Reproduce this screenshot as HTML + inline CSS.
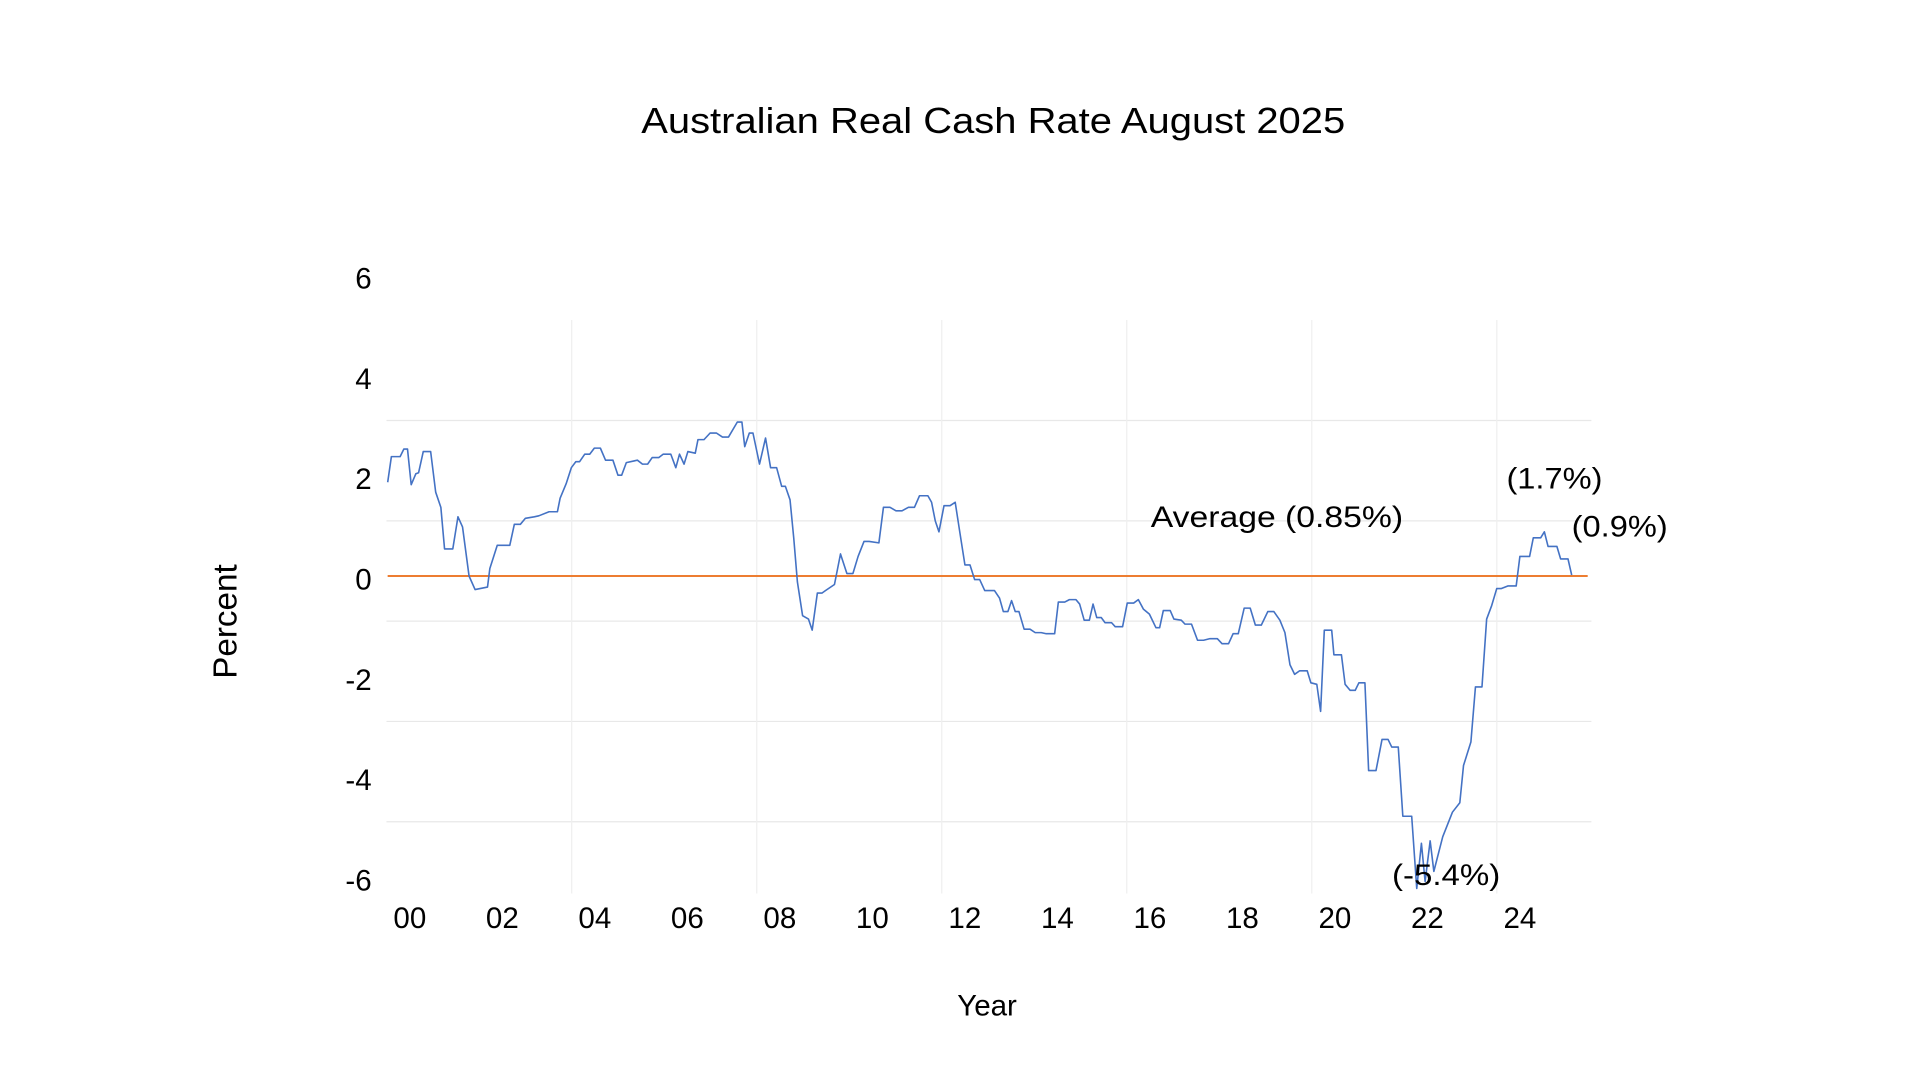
<!DOCTYPE html>
<html><head><meta charset="utf-8"><style>
html,body{margin:0;padding:0;background:#fff;}
svg{display:block;}
text{font-family:"Liberation Sans",sans-serif;fill:#000;}
</style></head><body>
<svg id="chart" width="1920" height="1080" viewBox="0 0 1560 877.5" preserveAspectRatio="none" xmlns="http://www.w3.org/2000/svg">
<text x="807" y="108" text-anchor="middle" font-size="29" textLength="572" lengthAdjust="spacingAndGlyphs">Australian Real Cash Rate August 2025</text>
<g id="grid"></g>
<g id="yticks"></g>
<g id="xticks"></g>
<line id="avgline" stroke="#ED7D31" stroke-width="1.6"></line>
<polyline id="series" fill="none" stroke="#4472C4" stroke-width="1.3" stroke-linejoin="round"></polyline>
<text x="0" y="0" font-size="27" text-anchor="middle" transform="translate(192,505) rotate(-90)">Percent</text>
<text x="802" y="825" font-size="24" text-anchor="middle">Year</text>
<text x="935" y="428" font-size="24" textLength="205" lengthAdjust="spacingAndGlyphs">Average (0.85%)</text>
<text x="1224" y="397" font-size="24" textLength="78" lengthAdjust="spacingAndGlyphs">(1.7%)</text>
<text x="1277" y="436" font-size="24" textLength="78" lengthAdjust="spacingAndGlyphs">(0.9%)</text>
<text x="1131" y="719" font-size="24" textLength="88" lengthAdjust="spacingAndGlyphs">(-5.4%)</text>
</svg>
<script>
const years = [-0.48,-0.40,-0.21,-0.13,-0.05,0.03,0.13,0.19,0.29,0.45,0.56,0.67,0.75,0.93,1.04,1.14,1.28,1.41,1.68,1.73,1.89,2.16,2.26,2.39,2.50,2.69,2.79,3.01,3.19,3.25,3.38,3.49,3.59,3.67,3.78,3.89,3.99,4.12,4.23,4.39,4.50,4.58,4.68,4.92,5.03,5.14,5.24,5.38,5.48,5.64,5.75,5.83,5.93,6.01,6.17,6.23,6.36,6.49,6.63,6.76,6.89,7.08,7.18,7.24,7.34,7.42,7.56,7.69,7.80,7.93,8.04,8.12,8.22,8.30,8.38,8.49,8.62,8.70,8.81,8.91,8.99,9.18,9.31,9.45,9.58,9.69,9.82,9.93,10.14,10.24,10.38,10.51,10.64,10.78,10.91,11.02,11.20,11.28,11.36,11.44,11.55,11.68,11.79,11.89,12.00,12.11,12.21,12.32,12.43,12.64,12.75,12.83,12.93,13.01,13.09,13.17,13.28,13.41,13.52,13.65,13.76,13.94,14.02,14.16,14.26,14.40,14.48,14.58,14.69,14.77,14.85,14.95,15.03,15.17,15.25,15.41,15.51,15.65,15.75,15.86,15.99,16.13,16.21,16.29,16.44,16.52,16.68,16.76,16.90,17.03,17.16,17.30,17.46,17.56,17.70,17.80,17.91,18.04,18.17,18.28,18.41,18.55,18.68,18.81,18.92,19.03,19.13,19.24,19.40,19.48,19.61,19.69,19.77,19.93,19.98,20.14,20.22,20.33,20.44,20.52,20.65,20.73,20.89,21.02,21.15,21.23,21.37,21.47,21.66,21.77,21.87,21.95,22.06,22.14,22.33,22.54,22.70,22.78,22.94,23.04,23.18,23.28,23.39,23.50,23.60,23.74,23.92,24.00,24.21,24.29,24.45,24.53,24.61,24.80,24.88,25.04,25.12];
const rates = [1.87,2.38,2.38,2.53,2.53,1.82,2.04,2.06,2.48,2.48,1.67,1.37,0.54,0.54,1.18,0.98,0,-0.27,-0.22,0.15,0.61,0.61,1.03,1.03,1.15,1.18,1.20,1.28,1.28,1.55,1.84,2.16,2.28,2.28,2.43,2.43,2.55,2.55,2.31,2.31,2.01,2.01,2.26,2.31,2.23,2.23,2.36,2.36,2.43,2.43,2.16,2.43,2.23,2.48,2.45,2.72,2.72,2.85,2.85,2.77,2.77,3.07,3.07,2.58,2.85,2.85,2.23,2.75,2.16,2.16,1.79,1.79,1.52,0.76,-0.12,-0.79,-0.86,-1.08,-0.34,-0.34,-0.29,-0.17,0.44,0.05,0.05,0.39,0.69,0.69,0.66,1.37,1.37,1.30,1.30,1.37,1.37,1.60,1.60,1.47,1.10,0.88,1.40,1.40,1.47,0.88,0.22,0.22,-0.07,-0.07,-0.29,-0.29,-0.44,-0.71,-0.71,-0.49,-0.71,-0.71,-1.06,-1.06,-1.13,-1.13,-1.15,-1.15,-0.52,-0.52,-0.47,-0.47,-0.56,-0.88,-0.88,-0.56,-0.83,-0.83,-0.93,-0.93,-1.01,-1.01,-0.54,-0.54,-0.47,-0.66,-0.76,-1.03,-1.03,-0.69,-0.69,-0.86,-0.88,-0.96,-0.96,-1.28,-1.28,-1.25,-1.25,-1.35,-1.35,-1.15,-1.15,-0.64,-0.64,-0.98,-0.98,-0.71,-0.71,-0.88,-1.13,-1.77,-1.96,-1.89,-1.89,-2.13,-2.16,-2.70,-1.08,-1.08,-1.57,-1.57,-2.16,-2.28,-2.28,-2.13,-2.13,-3.88,-3.88,-3.26,-3.26,-3.41,-3.41,-4.79,-4.79,-6.23,-5.33,-6.09,-5.28,-5.89,-5.20,-4.71,-4.52,-3.78,-3.31,-2.21,-2.21,-0.86,-0.59,-0.25,-0.25,-0.20,-0.20,0.39,0.39,0.76,0.76,0.88,0.59,0.59,0.34,0.34,0.02];
const yTickValues = [6,4,2,0,-2,-4,-6];
const yTickLabels = ["6","4","2","0","-2","-4","-6"];
const xTickValues = [0,2,4,6,8,10,12,14,16,18,20,22,24];
const xTickLabels = ["00","02","04","06","08","10","12","14","16","18","20","22","24"];
const hGridValues = [3.1,1.1,-0.9,-2.9,-4.9];
const vGridValues = [3.5,7.5,11.5,15.5,19.5,23.5];
const averageValue = 0;

const NS = "http://www.w3.org/2000/svg";
function xScale(t){ return 333 + t*37.58; }
function yScale(v){ return 468 - v*40.75; }

const grid = document.getElementById('grid');
hGridValues.forEach(v=>{
  const l=document.createElementNS(NS,'line');
  
  
  l.setAttribute('x1',314);l.setAttribute('x2',1293);
  l.setAttribute('y1',yScale(v));l.setAttribute('y2',yScale(v));
  l.setAttribute('stroke','#e8e8e8');l.setAttribute('stroke-width','1');
  grid.appendChild(l);
});
vGridValues.forEach(t=>{
  const l=document.createElementNS(NS,'line');
  
  
  l.setAttribute('x1',xScale(t));l.setAttribute('x2',xScale(t));
  l.setAttribute('y1',260);l.setAttribute('y2',726);
  l.setAttribute('stroke','#efefef');l.setAttribute('stroke-width','1');
  grid.appendChild(l);
});
const yt=document.getElementById('yticks');
yTickValues.forEach((v,i)=>{
  const t=document.createElementNS(NS,'text');
  
  
  t.setAttribute('x',302);t.setAttribute('y',yScale(v)-44+8+44-0);
  t.setAttribute('text-anchor','end');t.setAttribute('font-size','24');
  t.textContent=yTickLabels[i];
  yt.appendChild(t);
});
// adjust y tick label positions (labels sit 3px below the scale positions)
Array.from(yt.children).forEach((t,i)=>t.setAttribute('y',yScale(yTickValues[i])+3+8));
const xt=document.getElementById('xticks');
xTickValues.forEach((v,i)=>{
  const t=document.createElementNS(NS,'text');
  
  
  t.setAttribute('x',xScale(v));t.setAttribute('y',754);
  t.setAttribute('text-anchor','middle');t.setAttribute('font-size','24');
  t.textContent=xTickLabels[i];
  xt.appendChild(t);
});
const avg=document.getElementById('avgline');
avg.setAttribute('x1',xScale(years[0]));avg.setAttribute('x2',1290);
avg.setAttribute('y1',yScale(averageValue));avg.setAttribute('y2',yScale(averageValue));
document.getElementById('series').setAttribute('points',years.map((t,i)=>xScale(t).toFixed(1)+','+yScale(rates[i]).toFixed(1)).join(' '));
</script>
</body></html>
